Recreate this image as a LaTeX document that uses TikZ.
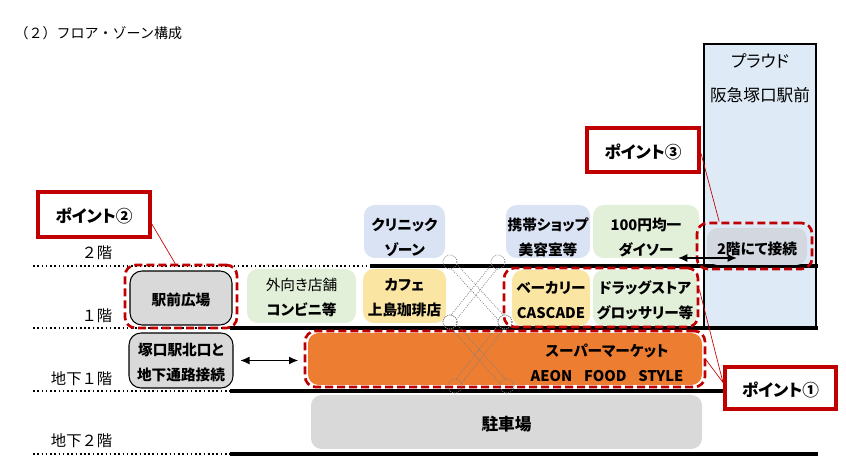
\documentclass[tikz,border=0pt]{standalone}
\usepackage{fontspec}
\setmainfont{Noto Sans CJK JP}[RawFeature=+palt]
\newfontfamily\fullw{Noto Sans CJK JP}
\usetikzlibrary{fit,calc,arrows.meta}
\definecolor{ptred}{HTML}{C00000}
\definecolor{lgreen}{HTML}{E2F0D9}
\definecolor{lyellow}{HTML}{FAE5A3}
\definecolor{lblue}{HTML}{DAE3F3}
\definecolor{proudblue}{HTML}{DEEBF7}
\definecolor{orng}{HTML}{ED7D31}
\definecolor{lgray}{HTML}{D9D9D9}
\definecolor{bgray}{HTML}{D3D8E0}
\newcommand\drawescal[2]{%
  \draw[esc] (#1) circle (5.25pt) (#2) circle (5.25pt);
  \draw[esc] ($(#1)!4.5pt!(#2)!2.6pt!90:(#2)$) -- ($(#2)!4.5pt!(#1)!2.6pt!-90:(#1)$);
  \draw[esc] ($(#1)!4.5pt!(#2)!2.6pt!-90:(#2)$) -- ($(#2)!4.5pt!(#1)!2.6pt!90:(#1)$);
}
\begin{document}
\begin{tikzpicture}[x=0.75pt,y=-0.75pt,
  shop/.style={rounded corners=8pt, inner sep=0pt},
  bordered/.style={shop, draw=black, line width=0.8pt, fill=lgray, rounded corners=9pt},
  txt/.style={align=center, inner sep=0pt, yshift=-1.5pt, font=\fontsize{11}{18.75}\selectfont\bfseries},
  ptxt/.style={txt, font=\fontsize{12.5}{15}\selectfont\bfseries},
  reddash/.style={draw=ptred, line width=2pt, dash pattern=on 6pt off 3pt, rounded corners=8pt, inner sep=0pt},
  pointbox/.style={draw=ptred, line width=3pt, fill=white, inner sep=0pt},
  floorlabel/.style={anchor=east, font=\fullw\fontsize{11.5}{13}\selectfont},
  dotline/.style={line width=1.2pt, dotted},
  floorline/.style={line width=3pt},
  esc/.style={draw=gray, densely dotted, line width=0.6pt},
  conn/.style={draw=ptred, line width=0.5pt},
  dblarrow/.style={{Latex[length=7pt,width=6pt]}-{Latex[length=7pt,width=6pt]}, line width=1.1pt},
]
\useasboundingbox (0,0) rectangle (846,473);

% title
\node[anchor=west, font=\fullw\fontsize{10.5}{12}\selectfont] (title) at (10,33) {（２）フロア・ゾーン構成};

% Proud building
\node[fit={(704,44) (816,328)}, inner sep=0pt, draw=black, line width=0.8pt, fill=proudblue] (proud) {};
\node[font=\fontsize{12.5}{14}\selectfont] (proudA) at (760,61) {プラウド};
\node[font=\fontsize{12.5}{14}\selectfont] (proudB) at (760,95) {阪急塚口駅前};

% floor lines
\draw[dotline] (33,266) -- (370,266);
\draw[floorline] (370,266) -- (818,266);
\draw[dotline] (33,328) -- (230,328);
\draw[floorline] (230,328) -- (818,328);
\draw[dotline] (33,391) -- (230,391);
\draw[floorline] (230,391) -- (818,391);
\draw[dotline] (33,454) -- (230,454);
\draw[floorline] (230,454) -- (818,454);

% floor labels
\node[floorlabel] (f2) at (117,253) {２階};
\node[floorlabel] (f1) at (117,316) {１階};
\node[floorlabel] (fb1) at (117,379) {地下１階};
\node[floorlabel] (fb2) at (117,441) {地下２階};

% 2F
\node[shop, fill=lblue, fit={(364,205) (445,258)}] (clinic) {};
\node[txt] (clinicT) at ($(clinic.center)+(0,4)$) {クリニック\\ゾーン};
\node[shop, fill=lblue, fit={(506,205) (590,258)}] (keitai) {};
\node[txt] (keitaiT) at ($(keitai.center)+(0,4)$) {携帯ショップ\\美容室等};
\node[shop, fill=lgreen, fit={(593,205) (699,258)}] (daiso) {};
\node[txt] (daisoT) at ($(daiso.center)+(0,4)$) {100円均一\\ダイソー};
\node[shop, fill=bgray, fit={(707,228) (807,265)}] (nikai) {};
\node[txt] (nikaiT) at (nikai.center) {2階にて接続};
\node[reddash, fit={(697,223) (812,269)}] (nikaiD) {};

% 1F
\node[bordered, fit={(130,271) (232,325)}] (ekimae) {};
\node[txt] (ekimaeT) at (ekimae.center) {駅前広場};
\node[reddash, fit={(125,265) (237,328)}] (ekimaeD) {};
\node[shop, fill=lgreen, fit={(247,269) (356,323)}] (soto) {};
\node[txt] (sotoT) at (soto.center) {{\mdseries 外向き店舗}\\コンビニ等};
\node[shop, fill=lyellow, fit={(363,269) (446,323)}] (cafe) {};
\node[txt] (cafeT) at (cafe.center) {カフェ\\上島珈琲店};
\node[shop, fill=lyellow, fit={(512,270) (590,326)}] (bakery) {};
\node[txt] (bakeryT) at (bakery.center) {ベーカリー\\CASCADE};
\node[shop, fill=lgreen, fit={(593,270) (697,326)}] (drug) {};
\node[txt] (drugT) at (drug.center) {ドラッグストア\\グロッサリー等};
\node[reddash, fit={(504,268) (698,327)}] (oneD) {};

% B1
\node[bordered, fit={(129,333) (233,388)}] (tsuka) {};
\node[txt] (tsukaT) at (tsuka.center) {塚口駅北口と\\地下通路接続};
\node[shop, fill=orng, fit={(308,333) (702,385)}] (super) {};
\node[reddash, fit={(305,331) (705,387)}] (superD) {};
\node[txt] (superT) at (607,360.5) {スーパーマーケット\\AEON\hspace{0.8em}FOOD\hspace{0.8em}STYLE};

% B2
\node[shop, fill=lgray, fit={(311,395) (702,449)}] (parking) {};
\node[txt, font=\fontsize{12.5}{15}\selectfont\bfseries] (parkingT) at (parking.center) {駐車場};

% escalators
\coordinate (e1a) at (450,262); \coordinate (e1b) at (505,322);
\coordinate (e2a) at (498,262); \coordinate (e2b) at (450,322);
\coordinate (e3a) at (450,322); \coordinate (e3b) at (507,386);
\coordinate (e4a) at (505,322); \coordinate (e4b) at (455,386);
\drawescal{e1a}{e1b}
\drawescal{e2a}{e2b}
\drawescal{e3a}{e3b}
\drawescal{e4a}{e4b}

% arrows
\draw[dblarrow, shorten <=5pt, shorten >=4pt] (tsuka.east) -- (superD.west |- tsuka.east);
\coordinate (arL) at (678,258);
\coordinate (arR) at (737,258);
\draw[dblarrow] (arL) -- (arR);

% point boxes
\node[pointbox, fit={(725,367) (836,409)}] (p1) {};
\node[ptxt] (p1T) at (p1.center) {ポイント①};
\node[pointbox, fit={(38,192) (150,237)}] (p2) {};
\node[ptxt] (p2T) at (p2.center) {ポイント②};
\node[pointbox, fit={(587,128) (699,172)}] (p3) {};
\node[ptxt] (p3T) at (p3.center) {ポイント③};

% connectors
\draw[conn] ($(p2.north east)!0.7!(p2.south east)$) -- ($(ekimaeD.north west)!0.45!(ekimaeD.north east)$);
\draw[conn] ($(p3.north east)!0.57!(p3.south east)$) -- ($(nikaiD.north west)!0.2!(nikaiD.north east)$);
\draw[conn] ($(p1.north west)!0.38!(p1.south west)$) -- ($(oneD.north east)!0.37!(oneD.south east)$);
\draw[conn] ($(p1.north west)!0.38!(p1.south west)$) -- ($(superD.north east)!0.52!(superD.south east)$);
\end{tikzpicture}
\end{document}
